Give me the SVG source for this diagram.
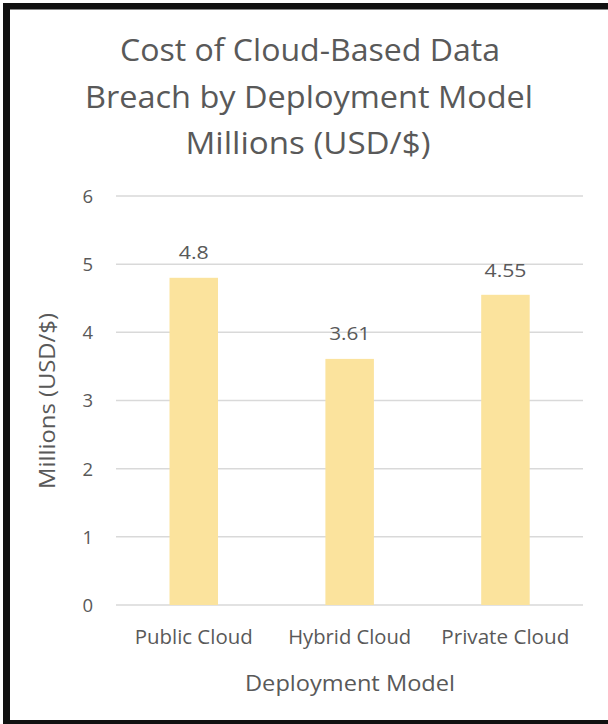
<svg xmlns="http://www.w3.org/2000/svg" width="608" height="724" viewBox="0 0 608 724">
<style>
  text { font-family: "Open Sans", Lato, "Liberation Sans", sans-serif; fill: #595959; }
  .title { font-size: 31px; text-anchor: middle; }
  .tick { font-size: 18.5px; text-anchor: end; }
  .cat { font-size: 19.5px; text-anchor: middle; }
  .val { font-size: 18.5px; text-anchor: middle; }
  .axt { font-size: 21px; text-anchor: middle; }
  .grid line { stroke: #d9d9d9; stroke-width: 1.5; }
  .bar { fill: #fbe39d; }
</style>
<rect x="0" y="0" width="608" height="724" fill="#ffffff"/>
<g id="frame" fill="#111111">
  <rect x="3" y="3" width="605" height="6.5"/>
  <rect x="3" y="3" width="7" height="721"/>
  <rect x="3" y="720" width="605" height="4"/>
</g>
<g id="title">
  <text class="title" x="310" y="61" textLength="380" lengthAdjust="spacingAndGlyphs">Cost of Cloud-Based Data</text>
  <text class="title" x="309" y="108" textLength="448" lengthAdjust="spacingAndGlyphs">Breach by Deployment Model</text>
  <text class="title" x="308" y="154" textLength="245" lengthAdjust="spacingAndGlyphs">Millions (USD/$)</text>
</g>
<g id="gridlines" class="grid">
  <line x1="116" y1="196" x2="583" y2="196"/>
  <line x1="116" y1="264.2" x2="583" y2="264.2"/>
  <line x1="116" y1="332.3" x2="583" y2="332.3"/>
  <line x1="116" y1="400.5" x2="583" y2="400.5"/>
  <line x1="116" y1="468.7" x2="583" y2="468.7"/>
  <line x1="116" y1="536.8" x2="583" y2="536.8"/>
  <line x1="116" y1="605" x2="583" y2="605"/>
</g>
<g id="y-ticks">
  <text class="tick" x="93" y="203">6</text>
  <text class="tick" x="93" y="271">5</text>
  <text class="tick" x="93" y="339">4</text>
  <text class="tick" x="93" y="407">3</text>
  <text class="tick" x="93" y="475.5">2</text>
  <text class="tick" x="93" y="543.5">1</text>
  <text class="tick" x="93" y="611.5">0</text>
</g>
<g id="bar-public">
  <rect class="bar" x="169.5" y="277.8" width="48.5" height="327.2"/>
  <text class="val" x="193.7" y="259" textLength="30" lengthAdjust="spacingAndGlyphs">4.8</text>
</g>
<g id="bar-hybrid">
  <rect class="bar" x="325.4" y="358.9" width="48.5" height="246.1"/>
  <text class="val" x="349.7" y="340" textLength="41" lengthAdjust="spacingAndGlyphs">3.61</text>
</g>
<g id="bar-private">
  <rect class="bar" x="481.2" y="294.8" width="48.5" height="310.2"/>
  <text class="val" x="505.5" y="277" textLength="42" lengthAdjust="spacingAndGlyphs">4.55</text>
</g>
<g id="categories">
  <text class="cat" x="193.7" y="644" textLength="118" lengthAdjust="spacingAndGlyphs">Public Cloud</text>
  <text class="cat" x="349.7" y="644" textLength="123" lengthAdjust="spacingAndGlyphs">Hybrid Cloud</text>
  <text class="cat" x="505.3" y="644" textLength="128" lengthAdjust="spacingAndGlyphs">Private Cloud</text>
</g>
<g id="axis-titles">
  <text class="axt" x="350" y="691" textLength="210" lengthAdjust="spacingAndGlyphs">Deployment Model</text>
  <text class="axt" transform="translate(55 401) rotate(-90)" x="0" y="0" textLength="176" lengthAdjust="spacingAndGlyphs">Millions (USD/$)</text>
</g>
</svg>
